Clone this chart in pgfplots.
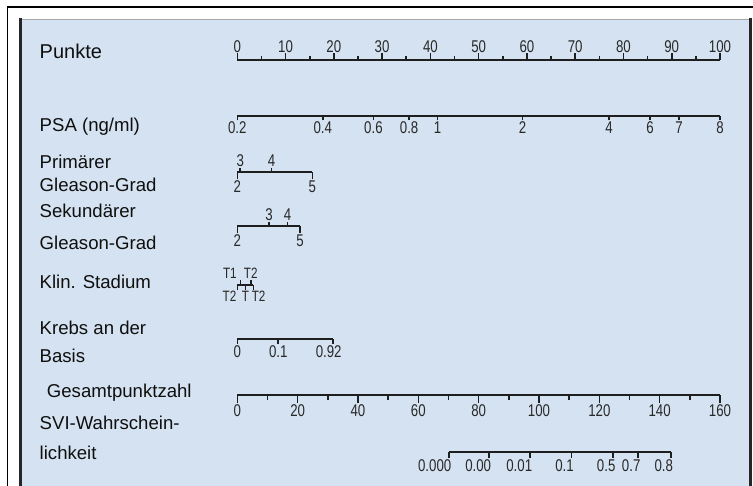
\documentclass[border=0pt]{standalone}
\usepackage{fontspec}
\setmainfont{Liberation Sans}
\newfontfamily\tickfont[FakeStretch=0.78]{Liberation Sans}
\usepackage{pgfplots}
\pgfplotsset{compat=1.18}
\definecolor{panel}{RGB}{212,226,241}
\definecolor{linec}{RGB}{30,30,30}
\definecolor{txt}{RGB}{15,15,15}
\definecolor{tickc}{RGB}{40,40,40}
\newcommand{\tfs}{\tickfont\fontsize{17}{17}\selectfont}
\newcommand{\tsm}{\tickfont\fontsize{15}{15}\selectfont}
\newcommand{\lfs}{\fontsize{18.6}{18.6}\selectfont}
\pgfplotsset{
  nomo/.style={scale only axis, height=6pt, ymin=0, ymax=1, hide y axis,
    axis line style={-, line width=2pt, draw=linec},
    tick style={line width=1.6pt, draw=linec},
    tick align=outside,
    xticklabel style={font=\tfs, text=tickc, inner sep=1pt}},
  nomotop/.style={nomo, axis x line*=top, anchor=north west},
  nomobot/.style={nomo, axis x line*=bottom, anchor=south west},
}
\begin{document}
\begin{tikzpicture}
\useasboundingbox (0pt,0pt) rectangle (753pt,-486pt);
\fill[white] (0pt,0pt) rectangle (753pt,-486pt);
\fill[panel] (20.7pt,-19.3pt) rectangle (750.5pt,-490pt);
\fill[gray!70] (20pt,-18.8pt) rectangle (751pt,-19.8pt);
\fill[black!85] (19pt,-18.5pt) rectangle (22pt,-490pt);
\fill[black!85] (749pt,-18.5pt) rectangle (752pt,-490pt);
\fill[black] (6.5pt,-490pt) rectangle (8pt,-6.5pt);
\fill[black] (6.5pt,-6.5pt) rectangle (760pt,-8pt);

\begin{scope}[every node/.style={anchor=base west, inner sep=0pt, text=txt, font=\lfs}]
\node[font=\fontsize{20}{20}\selectfont] at (39.5pt,-58.3pt) {Punkte};
\node at (39.5pt,-131.5pt) {PSA (ng/ml)};
\node at (39.5pt,-168.3pt) {Primärer};
\node at (39.5pt,-192pt) {Gleason-Grad};
\node at (39.5pt,-218pt) {Sekundärer};
\node at (39.5pt,-250pt) {Gleason-Grad};
\node at (39.5pt,-289pt) {Klin. Stadium};
\node at (39.5pt,-335pt) {Krebs an der};
\node at (39.5pt,-363pt) {Basis};
\node at (46.7pt,-397.5pt) {Gesamtpunktzahl};
\node at (39.5pt,-430pt) {SVI-Wahrschein-};
\node at (39.5pt,-460pt) {lichkeit};
\end{scope}

% Punkte
\begin{axis}[nomotop, at={(237.3pt,-60pt)}, width=482.7pt, xmin=0, xmax=100,
  xtick={0,10,...,100}, xticklabels={0,10,20,30,40,50,60,70,80,90,100},
  minor xtick={5,15,...,95}, major tick length=6.5pt, minor tick length=4pt]
\end{axis}
% PSA
\begin{axis}[nomobot, at={(237.3pt,-115.8pt)}, width=482.7pt, xmin=0, xmax=100,
  xtick={0,17.7,28.2,35.6,41.5,59.1,77,85.5,91.5,100},
  xticklabels={0.2,0.4,0.6,0.8,1,2,4,6,7,8}, major tick length=4.5pt]
\end{axis}
% Primaerer Gleason-Grad
\begin{axis}[nomobot, at={(237.3pt,-172.3pt)}, width=75pt, xmin=0, xmax=15.54,
  xtick={0,15.54}, xticklabels={2,5}, major tick length=7pt]
\end{axis}
\begin{axis}[nomotop, at={(237.3pt,-172.3pt)}, width=75pt, xmin=0, xmax=15.54,
  xtick={0.6,7.1}, xticklabels={3,4}, major tick length=4.5pt]
\end{axis}
% Sekundaerer Gleason-Grad
\begin{axis}[nomobot, at={(237.3pt,-226.3pt)}, width=62.7pt, xmin=0, xmax=13,
  xtick={0,13}, xticklabels={2,5}, major tick length=7pt]
\end{axis}
\begin{axis}[nomotop, at={(237.3pt,-226.3pt)}, width=62.7pt, xmin=0, xmax=13,
  xtick={6.57,10.44}, xticklabels={3,4}, major tick length=4.5pt]
\end{axis}
% Klin. Stadium
\begin{axis}[nomobot, at={(237.3pt,-284.7pt)}, width=16pt, xmin=0, xmax=3.31,
  xtick={0,1.7,3.31}, xticklabels={\llap{T2\hspace{1pt}},T,\rlap{\hspace{-1.5pt}T2}},
  xticklabel style={font=\tsm}, major tick length=5pt]
\end{axis}
\begin{axis}[nomotop, at={(237.3pt,-284.7pt)}, width=16pt, xmin=0, xmax=3.31,
  xtick={0.7,2.78}, xticklabels={\llap{T1\hspace{4pt}},T2},
  xticklabel style={font=\tsm}, major tick length=4.5pt]
\end{axis}
% Krebs an der Basis
\begin{axis}[nomobot, at={(237.3pt,-339pt)}, width=95.4pt, xmin=0, xmax=19.76,
  xtick={0,8.49,19.76}, xticklabels={0,0.1,\hspace{-8pt}0.92}, major tick length=5pt]
\end{axis}
% Gesamtpunktzahl
\begin{axis}[nomobot, at={(237.3pt,-395.5pt)}, width=482.7pt, xmin=0, xmax=160,
  xtick={0,20,...,160}, xticklabels={0,20,40,60,80,100,120,140,160},
  minor xtick={10,30,...,150}, major tick length=8pt, minor tick length=4.5pt]
\end{axis}
% SVI-Wahrscheinlichkeit
\begin{axis}[nomobot, at={(449pt,-452pt)}, width=221.7pt, xmin=70.2, xmax=143.7,
  xtick={70.2,83.4,97,110.8,124.6,132.9,143.7},
  xticklabels={0.000,0.00,0.01,0.1,0.5,0.7,0.8},
  xticklabel style={anchor=north east, xshift=3.5pt}, major tick length=6pt]
\end{axis}
\end{tikzpicture}
\end{document}
